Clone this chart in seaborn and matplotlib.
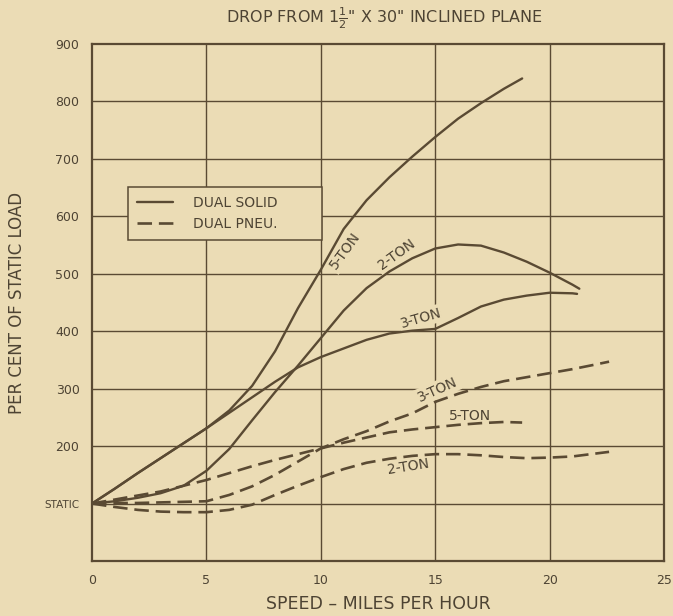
import matplotlib
matplotlib.use("Agg")
import matplotlib.pyplot as plt
from matplotlib.lines import Line2D
import seaborn as sns

# ---- data: per cent of static load vs. speed (mph) ----
speed_solid_2t = [0, 1, 2, 3, 4, 5, 6, 7, 8, 9, 10, 11, 12, 13, 14, 15, 16, 17, 18, 19, 20, 21, 21.3]
load_solid_2t = [100, 104, 110, 118, 131, 157, 195, 245, 294, 340, 388, 436, 475, 504, 527, 544, 551, 549, 537, 521, 502, 481, 474]

speed_solid_3t = [0, 1, 2, 3, 4, 5, 6, 7, 8, 9, 10, 11, 12, 13, 14, 15, 16, 17, 18, 19, 20, 21, 21.2]
load_solid_3t = [100, 126, 153, 179, 205, 231, 258, 285, 312, 337, 355, 370, 385, 396, 401, 404, 423, 443, 455, 462, 467, 466, 465]

speed_solid_5t = [0, 1, 2, 3, 4, 5, 6, 7, 8, 9, 10, 11, 12, 13, 14, 15, 16, 17, 18, 18.8]
load_solid_5t = [100, 126, 153, 179, 205, 231, 262, 305, 365, 440, 507, 578, 628, 668, 704, 738, 770, 797, 822, 840]

speed_pneu_2t = [0, 1, 2, 3, 4, 5, 6, 7, 8, 9, 10, 11, 12, 13, 14, 15, 16, 17, 18, 19, 20, 21, 22, 22.6]
load_pneu_2t = [100, 94, 89, 86, 85, 85, 89, 98, 115, 131, 146, 160, 171, 178, 183, 186, 186, 184, 181, 179, 180, 182, 187, 190]

speed_pneu_3t = [0, 1, 2, 3, 4, 5, 6, 7, 8, 9, 10, 11, 12, 13, 14, 15, 16, 17, 18, 19, 20, 21, 22, 22.6]
load_pneu_3t = [100, 101, 101, 102, 103, 104, 115, 130, 150, 173, 196, 212, 226, 243, 257, 277, 291, 303, 313, 320, 327, 334, 342, 347]

speed_pneu_5t = [0, 1, 2, 3, 4, 5, 6, 7, 8, 9, 10, 11, 12, 13, 14, 15, 16, 17, 18, 18.8]
load_pneu_5t = [100, 107, 114, 121, 131, 141, 153, 165, 176, 186, 196, 206, 215, 224, 229, 233, 237, 240, 242, 241]

x_ticks = [0, 5, 10, 15, 20, 25]
y_ticks = [100, 200, 300, 400, 500, 600, 700, 800, 900]
y_tick_labels = ["STATIC", "200", "300", "400", "500", "600", "700", "800", "900"]

# curve annotations: text, x, y, rotation
curve_labels = [
    ("5-TON", 11.05, 540, 54),
    ("2-TON", 13.3, 533, 36),
    ("3-TON", 14.4, 423, 16),
    ("3-TON", 15.1, 298, 24),
    ("5-TON", 16.5, 253, 0),
    ("2-TON", 13.8, 164, 9),
]

# ---- styling ----
PAPER = "#ebdcb5"
INK = "#5a4a33"
TEXT = "#4d4333"
DASH = (5.5, 2.6)

sns.set_style("white")
plt.rcParams["font.family"] = ["DejaVu Sans"]
plt.rcParams["text.color"] = TEXT
plt.rcParams["axes.labelcolor"] = TEXT
plt.rcParams["xtick.color"] = TEXT
plt.rcParams["ytick.color"] = TEXT

fig = plt.figure(figsize=(6.73, 6.16), dpi=100, facecolor=PAPER)
ax = fig.add_axes([92 / 673, 55 / 616, 572 / 673, 517 / 616])
ax.set_facecolor(PAPER)

# grid drawn as plain rules so labels can mask them
for gx in x_ticks[1:-1]:
    ax.axvline(gx, color=INK, lw=1.0, zorder=1)
for gy in y_ticks[:-1]:
    ax.axhline(gy, color=INK, lw=1.0, zorder=1)

solid_kw = dict(color=INK, lw=1.7, zorder=3, errorbar=None)
dash_kw = dict(color=INK, lw=1.9, zorder=3, errorbar=None)

sns.lineplot(x=speed_solid_2t, y=load_solid_2t, ax=ax, **solid_kw)
sns.lineplot(x=speed_solid_3t, y=load_solid_3t, ax=ax, **solid_kw)
sns.lineplot(x=speed_solid_5t, y=load_solid_5t, ax=ax, **solid_kw)
n_solid = len(ax.lines)
sns.lineplot(x=speed_pneu_2t, y=load_pneu_2t, ax=ax, **dash_kw)
sns.lineplot(x=speed_pneu_3t, y=load_pneu_3t, ax=ax, **dash_kw)
sns.lineplot(x=speed_pneu_5t, y=load_pneu_5t, ax=ax, **dash_kw)
for ln in ax.lines[n_solid:]:
    ln.set_dashes(DASH)
for ln in ax.lines:
    ln.set_solid_capstyle("round")
    ln.set_dash_capstyle("butt")

for txt, tx, ty, rot in curve_labels:
    ax.text(tx, ty, txt, fontsize=10, color=TEXT, rotation=rot,
            ha="center", va="center", rotation_mode="anchor", zorder=2,
            bbox=dict(boxstyle="square,pad=0.15", fc=PAPER, ec="none"))

ax.set_xlim(0, 25)
ax.set_ylim(0, 900)
ax.set_xticks(x_ticks)
ax.set_xticklabels([str(v) for v in x_ticks])
ax.set_yticks(y_ticks)
ax.set_yticklabels(y_tick_labels)
ax.tick_params(length=0, labelsize=9, pad=9)
for lbl in ax.get_yticklabels():
    if lbl.get_text() == "STATIC":
        lbl.set_fontsize(7.5)

for side in ["left", "right", "top", "bottom"]:
    ax.spines[side].set_visible(True)
    ax.spines[side].set_color(INK)
    ax.spines[side].set_linewidth(1.6)
    ax.spines[side].set_zorder(4)

ax.set_xlabel("SPEED – MILES PER HOUR", fontsize=12.5, labelpad=6)
ax.set_ylabel("PER CENT OF STATIC LOAD", fontsize=12, labelpad=13)

handles = [Line2D([], [], color=INK, lw=1.7),
           Line2D([], [], color=INK, lw=1.9, dashes=DASH)]
leg = ax.legend(handles, ["DUAL SOLID", "DUAL PNEU."],
                loc="upper left", bbox_to_anchor=(0.063, 0.613, 0.339, 0.11),
                mode="expand", borderaxespad=0, fontsize=10,
                handlelength=2.6, handletextpad=1.4, labelspacing=0.5,
                borderpad=0.65, fancybox=False, frameon=True)
leg.get_frame().set_facecolor(PAPER)
leg.get_frame().set_edgecolor(INK)
leg.get_frame().set_linewidth(1.1)
leg.get_frame().set_alpha(1)
leg.set_zorder(5)
for t in leg.get_texts():
    t.set_color(TEXT)

fig.text(384 / 673, 1 - 18 / 616, 'DROP FROM 1$\\frac{1}{2}$" X 30" INCLINED PLANE',
         ha="center", va="center", fontsize=11.5, color=TEXT)

fig.savefig("out.png", dpi=100, facecolor=PAPER)
